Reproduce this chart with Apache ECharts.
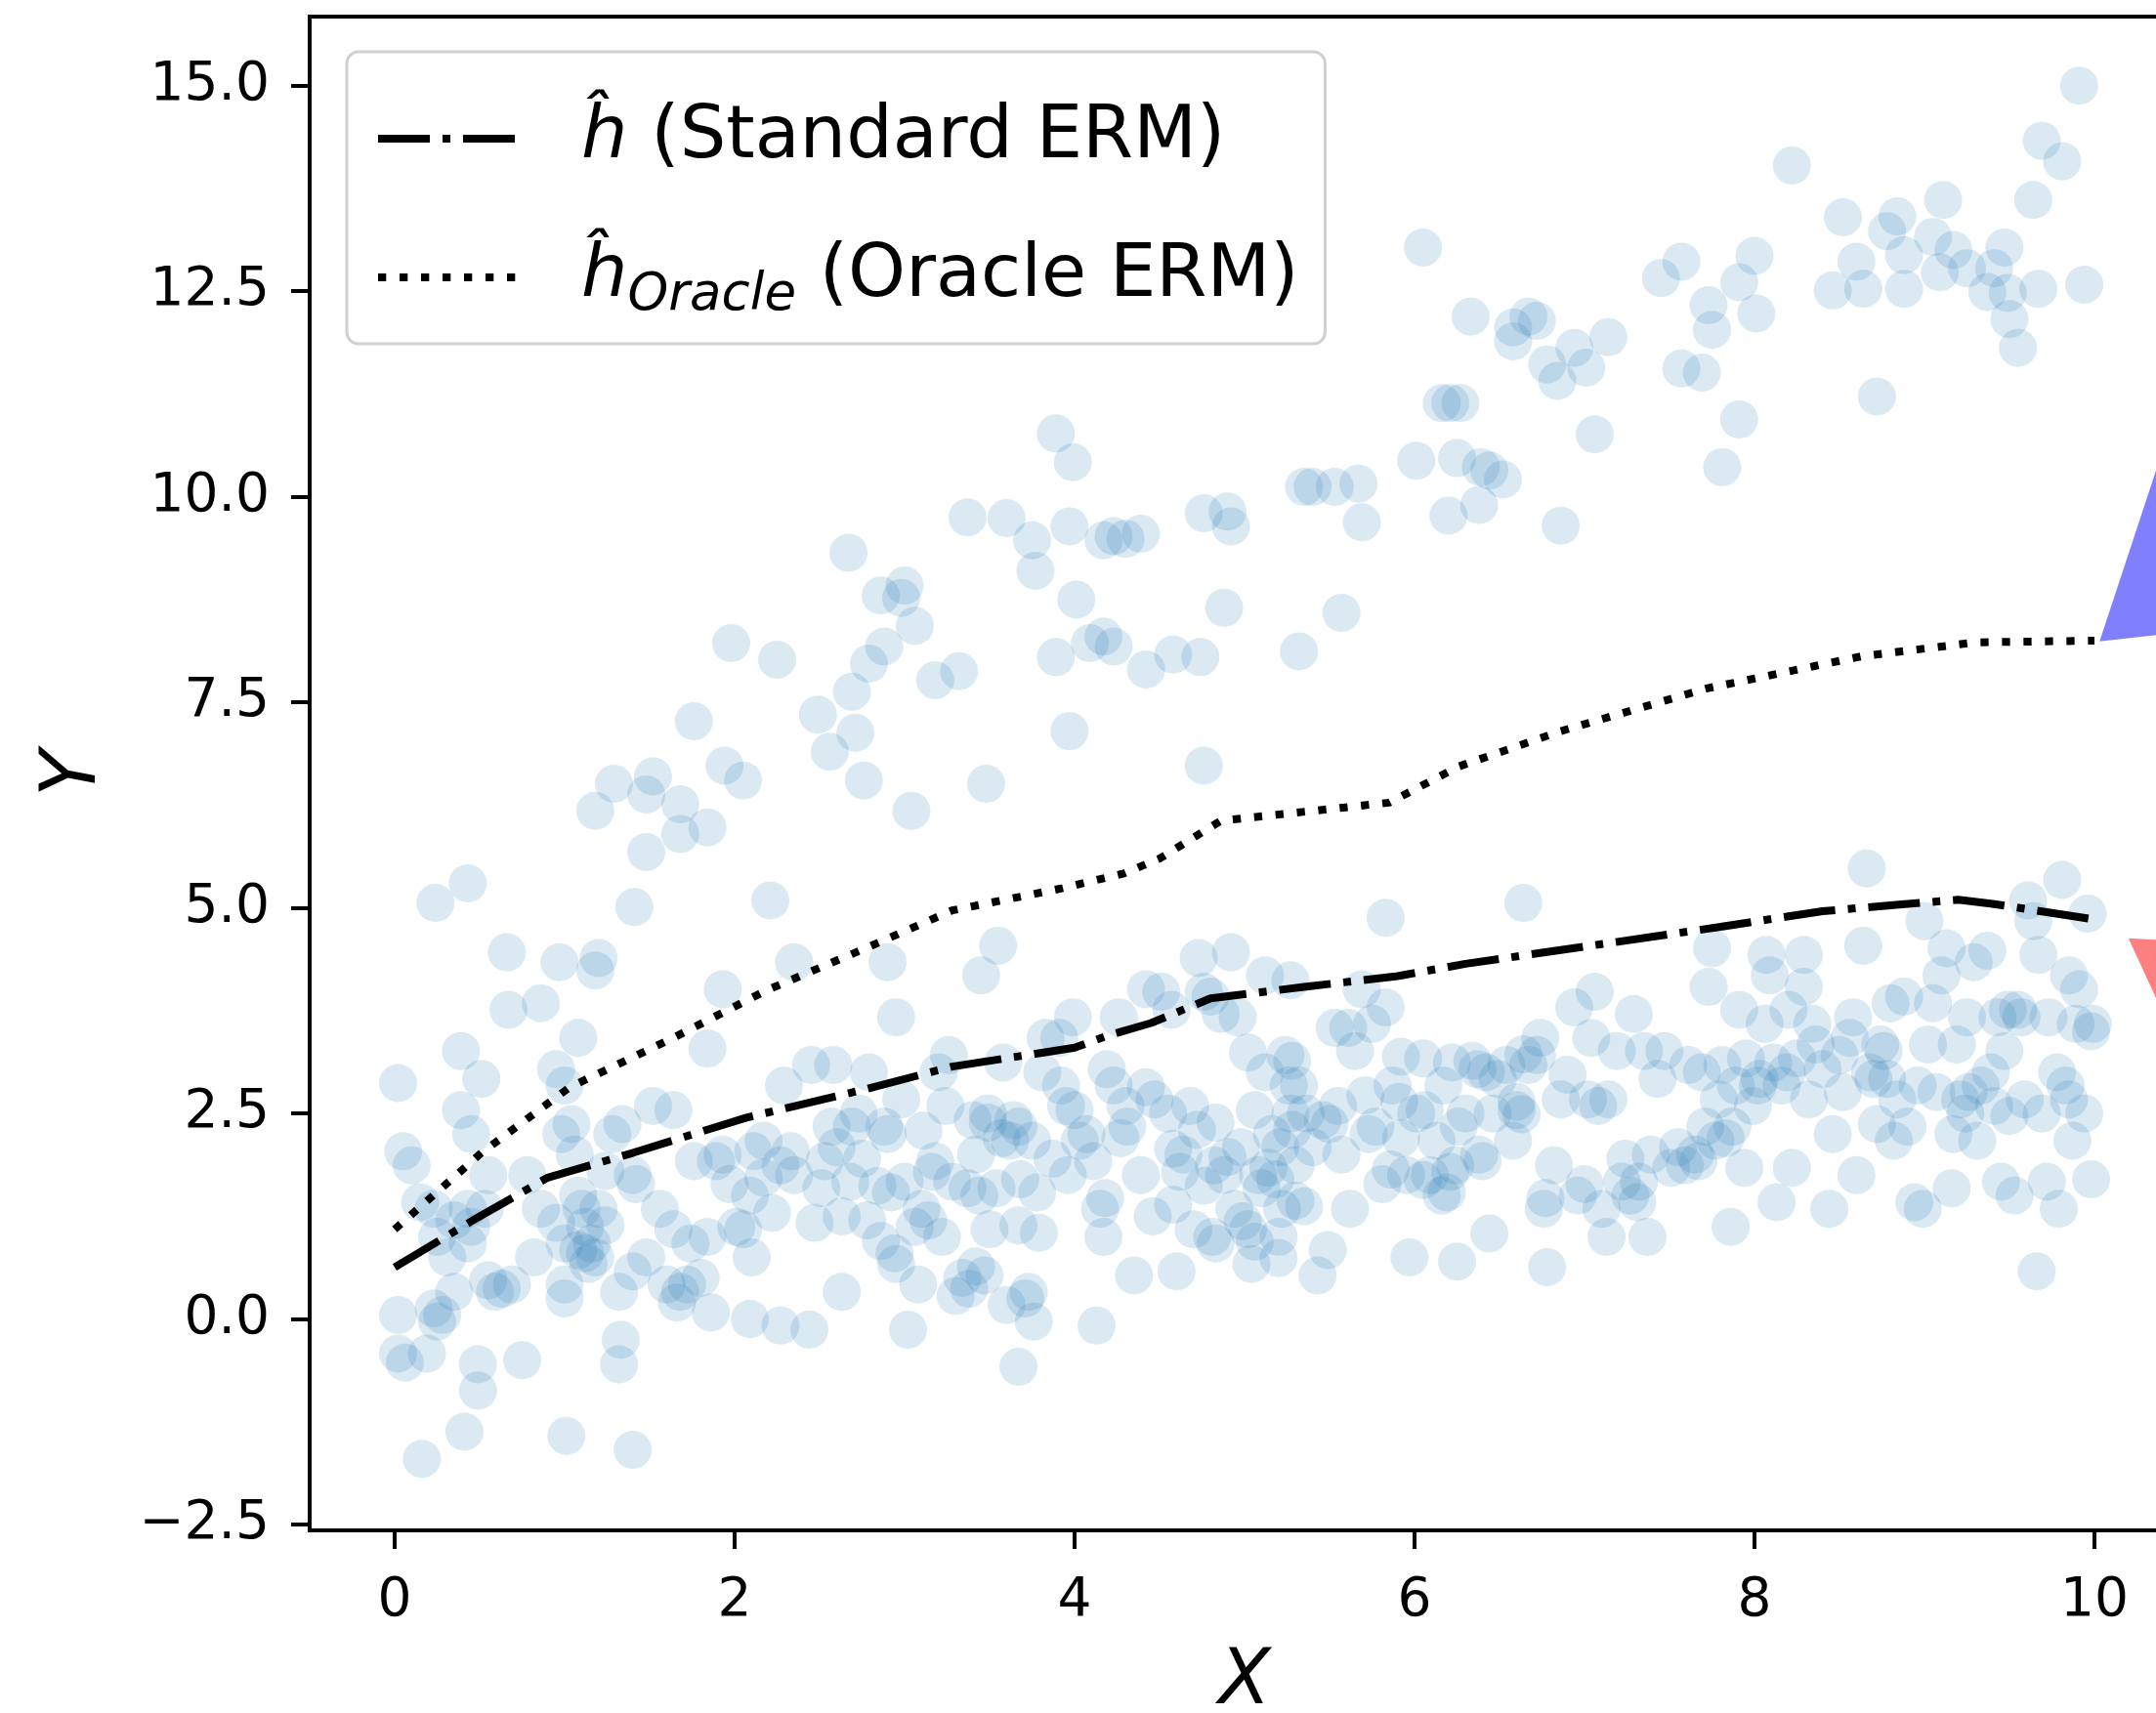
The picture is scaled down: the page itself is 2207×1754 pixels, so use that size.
<!DOCTYPE html>
<html>
<head>
<meta charset="utf-8">
<script src="https://cdn.jsdelivr.net/npm/echarts@6/dist/echarts.min.js"></script>
<style>
  html, body { margin: 0; padding: 0; background: #ffffff; }
  #chart { width: 2207px; height: 1754px; }
</style>
</head>
<body>
<div id="chart"></div>
<script>
// ---------- data ----------
const xTicks = [0, 2, 4, 6, 8, 10];
const yTicks = [-2.5, 0, 2.5, 5, 7.5, 10, 12.5, 15];

const standardLine = [[0,0.63],[0.46,1.2],[0.9,1.72],[1.4,2.02],[2.07,2.45],[2.76,2.79],[3.28,3.07],[4.0,3.3],[4.2,3.45],[4.45,3.6],[4.8,3.9],[5.35,4.04],[5.9,4.17],[6.3,4.32],[6.8,4.47],[7.8,4.77],[8.4,4.96],[8.85,5.04],[9.2,5.1],[9.4,5.05],[10,4.86]];

const oracleLine = [[0,1.09],[0.51,2.02],[1.03,2.82],[1.62,3.4],[2.19,4.0],[2.76,4.5],[3.28,4.97],[3.93,5.24],[4.29,5.42],[4.5,5.6],[4.86,6.06],[5.58,6.22],[5.85,6.28],[6.26,6.72],[6.86,7.15],[7.72,7.67],[8.63,8.06],[9.3,8.23],[10,8.25]];

const upperPoints = [[0.24,5.06],[0.43,5.3],[0.66,4.46],[0.67,3.76],[0.86,3.84],[0.97,4.34],[1.2,4.39],[1.18,4.24],[1.18,6.18],[1.29,6.51],[1.41,5.01],[1.48,6.38],[1.48,5.68],[1.52,6.6],[1.68,5.9],[1.68,6.26],[1.76,7.27],[1.84,5.98],[1.94,6.73],[1.98,8.22],[2.05,6.55],[1.93,4.01],[2.21,5.09],[2.25,8.02],[2.35,4.34],[2.49,7.35],[2.56,6.9],[2.67,9.32],[2.69,7.63],[2.71,7.13],[2.76,6.55],[2.79,7.97],[2.86,8.8],[2.88,8.18],[3.0,8.92],[2.98,8.77],[3.06,8.43],[3.04,6.18],[2.9,4.34],[2.95,3.67],[3.18,7.77],[3.32,7.88],[3.37,9.75],[3.48,6.51],[3.45,4.18],[3.55,4.54],[3.6,9.74],[3.75,9.47],[3.77,9.1],[3.89,10.77],[3.99,10.42],[3.97,9.64],[3.89,8.05],[3.97,7.15],[4.01,8.75],[4.09,8.22],[4.17,8.3],[4.23,8.18],[4.17,9.47],[4.23,9.52],[4.3,9.49],[4.39,9.55],[4.42,7.9],[4.58,8.08],[4.74,8.05],[4.76,6.73],[4.76,9.8],[4.88,8.65],[4.9,9.82],[4.92,9.64],[5.32,8.12],[5.35,10.12],[5.4,10.12],[5.53,10.12],[5.57,8.59],[5.67,10.16],[5.69,9.69],[5.83,4.88],[6.01,10.44],[6.05,13.03],[6.16,11.14],[6.21,11.14],[6.27,11.14],[6.2,9.77],[6.25,10.47],[6.33,12.19],[6.38,9.9],[6.39,10.36],[6.44,10.32],[6.52,10.21],[6.58,12.06],[6.58,11.89],[6.67,12.19],[6.72,12.14],[6.78,11.61],[6.84,11.41],[6.86,9.65],[6.94,11.81],[7.01,11.57],[7.06,10.76],[7.14,11.94],[6.64,5.06],[7.45,12.66],[7.57,12.86],[7.57,11.56],[7.69,11.51],[7.73,12.33],[7.75,12.03],[7.81,10.36],[7.91,12.61],[7.91,10.94],[8.0,12.93],[8.01,12.23],[8.22,14.03],[8.52,13.4],[8.46,12.51],[8.6,12.86],[8.64,12.53],[8.72,11.22],[8.78,13.23],[8.84,13.41],[8.88,12.94],[8.88,12.53],[9.05,13.16],[9.09,12.73],[9.11,13.61],[9.17,13.0],[9.25,12.78],[9.37,12.49],[9.41,12.78],[9.47,13.03],[9.49,12.48],[9.5,12.16],[9.55,11.81],[9.64,13.61],[9.67,12.53],[9.69,14.33],[9.81,14.08],[9.91,15.0],[9.94,12.58]];

const lowerPoints = [[0.02,2.87],[0.05,2.04],[0.1,1.87],[0.02,0.05],[0.02,-0.42],[0.06,-0.53],[0.19,-0.42],[0.16,-1.7],[0.15,1.42],[0.23,1.34],[0.25,1.0],[0.23,0.13],[0.25,-0.03],[0.28,0.05],[0.35,0.33],[0.31,0.75],[0.35,1.2],[0.39,3.26],[0.39,2.54],[0.43,1.34],[0.45,1.12],[0.41,-1.37],[0.49,-0.55],[0.49,-0.87],[0.51,2.92],[0.45,2.25],[0.43,0.92],[0.53,1.34],[0.55,1.75],[0.55,0.47],[0.59,0.33],[0.63,0.37],[0.69,0.42],[0.75,-0.5],[0.78,1.75],[0.82,0.75],[0.86,1.34],[0.95,3.04],[1.0,2.84],[0.98,2.25],[0.95,1.17],[1.0,0.92],[1.0,0.42],[1.0,0.25],[1.01,-1.42],[1.04,2.37],[1.08,3.42],[1.06,2.0],[1.08,1.5],[1.1,1.34],[1.12,1.12],[1.08,0.84],[1.16,0.92],[1.14,0.67],[1.12,0.8],[1.18,0.75],[1.2,1.34],[1.24,1.14],[1.24,1.8],[1.28,2.25],[1.34,2.37],[1.32,0.33],[1.33,-0.25],[1.32,-0.55],[1.4,-1.59],[1.4,1.75],[1.42,1.64],[1.4,0.58],[1.48,0.75],[1.52,2.59],[1.56,1.34],[1.6,0.42],[1.64,2.54],[1.64,1.09],[1.68,0.33],[1.66,0.2],[1.72,0.42],[1.74,0.92],[1.76,1.92],[1.8,0.5],[1.84,1.0],[1.86,0.08],[1.84,3.29],[1.89,1.92],[1.93,2.0],[1.97,1.64],[2.01,1.12],[2.05,1.09],[2.1,0.75],[2.09,0.0],[2.11,2.04],[2.09,1.5],[2.17,2.17],[2.17,1.72],[2.22,1.29],[2.27,-0.08],[2.27,1.87],[2.29,2.84],[2.33,2.04],[2.35,1.75],[2.44,-0.13],[2.45,3.09],[2.47,1.17],[2.51,1.59],[2.53,1.92],[2.57,2.34],[2.58,3.09],[2.6,2.09],[2.63,0.33],[2.63,1.25],[2.68,1.67],[2.69,2.34],[2.73,2.5],[2.75,1.95],[2.78,1.2],[2.79,3.0],[2.84,1.62],[2.86,0.95],[2.88,2.34],[2.9,2.25],[2.92,1.54],[2.94,0.8],[2.95,0.67],[2.98,2.67],[3.0,1.67],[3.02,-0.13],[3.06,1.12],[3.08,0.42],[3.1,1.34],[3.11,2.29],[3.14,1.2],[3.16,1.79],[3.18,1.92],[3.2,3.0],[3.22,1.0],[3.24,2.59],[3.26,3.21],[3.28,1.67],[3.3,0.28],[3.34,0.5],[3.38,0.37],[3.4,2.42],[3.42,2.0],[3.44,1.5],[3.47,0.53],[3.49,2.5],[3.5,1.09],[3.54,1.59],[3.57,2.2],[3.58,3.12],[3.6,0.17],[3.62,2.17],[3.64,2.42],[3.67,-0.58],[3.67,2.34],[3.68,1.7],[3.71,0.25],[3.73,0.33],[3.76,-0.03],[3.75,2.17],[3.79,1.05],[3.81,3.0],[3.83,3.42],[3.87,1.95],[3.91,3.42],[3.92,2.84],[3.95,2.59],[3.96,1.75],[3.99,3.67],[4.0,2.54],[4.03,2.17],[4.07,2.25],[4.11,1.92],[4.13,-0.08],[4.15,1.34],[4.17,1.0],[4.19,3.04],[4.23,2.84],[4.26,3.67],[4.27,2.2],[4.3,2.59],[4.31,2.34],[4.35,0.53],[4.39,1.75],[4.42,4.01],[4.46,1.25],[4.47,2.67],[4.51,3.98],[4.55,2.5],[4.57,3.76],[4.6,0.58],[4.62,1.79],[4.64,2.0],[4.68,2.59],[4.7,1.09],[4.72,2.3],[4.73,4.39],[4.76,3.98],[4.8,3.92],[4.81,1.0],[4.82,1.87],[4.83,0.92],[4.86,3.71],[4.88,1.75],[4.9,1.97],[4.92,4.46],[4.94,1.34],[4.96,3.67],[4.98,2.09],[5.02,1.09],[5.04,0.67],[5.06,2.54],[5.08,1.75],[5.12,4.18],[5.12,3.0],[5.14,1.84],[5.16,2.25],[5.18,1.7],[5.2,1.0],[5.22,1.34],[5.24,3.21],[5.27,2.5],[5.28,3.14],[5.28,2.3],[5.3,1.87],[5.32,2.84],[5.35,1.37],[5.36,2.5],[5.4,2.09],[5.43,0.53],[5.46,2.42],[5.49,0.84],[5.5,2.37],[5.53,3.54],[5.55,2.59],[5.57,2.0],[5.61,3.54],[5.62,1.34],[5.65,3.26],[5.69,4.01],[5.71,2.72],[5.73,2.25],[5.75,3.59],[5.77,2.34],[5.81,1.64],[5.83,3.79],[5.87,2.84],[5.92,2.2],[5.95,1.75],[5.97,0.75],[6.01,2.5],[6.05,3.17],[6.09,1.75],[6.13,2.17],[6.16,1.5],[6.17,2.84],[6.19,1.54],[6.22,3.12],[6.24,1.87],[6.25,0.7],[6.3,2.5],[6.34,3.14],[6.38,2.0],[6.4,1.92],[6.42,3.0],[6.44,1.04],[6.46,2.5],[6.49,2.92],[6.54,3.09],[6.58,2.17],[6.6,2.54],[6.64,3.22],[6.67,3.09],[6.72,3.21],[6.74,3.42],[6.76,1.34],[6.78,0.63],[6.82,1.87],[6.86,2.67],[6.9,2.97],[6.94,3.79],[6.96,1.5],[7.0,1.64],[7.02,2.67],[7.04,3.42],[7.06,3.98],[7.08,2.59],[7.1,1.34],[7.13,1.0],[7.14,2.67],[7.19,3.26],[7.22,1.67],[7.24,1.95],[7.27,1.5],[7.29,3.71],[7.31,1.42],[7.32,1.67],[7.35,3.26],[7.37,1.0],[7.39,2.0],[7.43,2.92],[7.47,3.26],[7.51,1.84],[7.55,2.09],[7.59,1.87],[7.61,3.09],[7.65,2.0],[7.67,1.92],[7.69,3.0],[7.71,2.34],[7.73,4.04],[7.75,4.51],[7.77,2.17],[7.79,2.67],[7.81,3.09],[7.83,2.2],[7.86,1.12],[7.87,2.34],[7.89,2.84],[7.91,3.76],[7.94,1.84],[7.95,3.17],[7.99,2.59],[8.02,2.84],[8.03,2.92],[8.06,3.59],[8.07,4.43],[8.09,4.18],[8.11,3.12],[8.13,1.42],[8.16,2.84],[8.19,3.0],[8.2,3.76],[8.22,1.84],[8.25,3.17],[8.29,4.43],[8.29,4.04],[8.32,2.67],[8.34,3.59],[8.36,3.34],[8.4,3.04],[8.44,1.34],[8.46,2.25],[8.5,3.21],[8.52,2.76],[8.56,3.42],[8.58,3.67],[8.6,1.75],[8.64,4.54],[8.66,5.48],[8.68,3.0],[8.7,2.92],[8.72,2.37],[8.74,3.34],[8.76,3.26],[8.78,2.92],[8.8,3.84],[8.82,2.17],[8.84,2.67],[8.88,3.92],[8.9,2.34],[8.94,1.42],[8.96,2.84],[8.99,1.34],[9.0,4.84],[9.02,3.34],[9.05,3.84],[9.07,2.76],[9.1,4.18],[9.13,4.51],[9.16,1.59],[9.17,2.25],[9.19,3.34],[9.21,2.67],[9.24,2.5],[9.25,3.67],[9.26,2.76],[9.29,4.34],[9.31,2.17],[9.33,2.84],[9.37,4.48],[9.39,3.0],[9.41,2.59],[9.43,3.67],[9.45,1.67],[9.47,3.26],[9.49,3.76],[9.5,2.47],[9.53,1.5],[9.55,3.76],[9.57,3.67],[9.59,2.67],[9.61,5.09],[9.64,4.84],[9.66,0.58],[9.67,4.43],[9.69,2.5],[9.72,1.67],[9.73,3.67],[9.78,3.0],[9.79,1.34],[9.81,5.34],[9.83,2.84],[9.85,4.18],[9.85,2.67],[9.87,2.17],[9.89,3.59],[9.91,4.01],[9.94,2.5],[9.96,4.93],[9.98,3.5],[9.98,1.7],[9.99,3.59]];

// extra points in the dense middle band (read from a close-up of x 3.3 - 6.9)
const middlePoints = [[5.02,3.24],[5.26,2.84],[5.92,3.19],[6.37,3.04],[6.6,2.64],[3.49,2.39],[3.37,1.59],[3.78,1.54],[4.42,2.82],[4.58,2.07],[4.83,2.39],[4.76,1.62],[4.18,1.47],[4.58,1.39],[4.99,1.19],[5.06,0.94],[3.67,1.14],[3.42,0.64],[5.21,2.09],[5.3,1.44],[5.1,1.59],[5.91,2.64],[6.06,2.54],[6.26,2.34],[5.86,1.82],[6.05,1.69],[6.21,1.79],[6.63,2.49],[6.77,1.47],[5.27,4.12],[5.2,0.74]];

// annotation wedges (data coordinates, partly outside the visible canvas)
const blueWedge = [[10.03,8.24],[10.67,12.25],[10.67,8.39]];
const redWedge = [[10.2,4.63],[10.67,4.58],[10.67,2.53]];

// ---------- chart ----------
const chart = echarts.init(document.getElementById('chart'), null, {renderer: 'canvas'});
const FONT = 'DejaVu Sans';

function wedgeSeries(poly, color) {
  return {
    type: 'custom',
    coordinateSystem: 'cartesian2d',
    clip: false,
    silent: true,
    z: 5,
    data: [0],
    renderItem: function (params, api) {
      const pts = poly.map(p => api.coord(p));
      return {type: 'polygon', shape: {points: pts}, style: {fill: color}};
    }
  };
}

const option = {
  backgroundColor: '#ffffff',
  animation: false,
  grid: {
    left: 317, right: -24, top: 17, bottom: 187,
    show: true, borderColor: '#000', borderWidth: 4,
    outerBoundsMode: 'none'
  },
  legend: {
    data: ['Standard', 'Oracle'],
    orient: 'vertical',
    left: 355, top: 53,
    padding: [39, 27, 18, 28],
    itemGap: 42,
    itemWidth: 149, itemHeight: 100,
    backgroundColor: 'rgba(255,255,255,0.8)',
    borderColor: '#d0d0d0', borderWidth: 3, borderRadius: 12,
    itemStyle: {color: 'rgba(0,0,0,0)', opacity: 0, borderWidth: 0},
    lineStyle: {width: 8, type: 'inherit', cap: 'butt', color: '#000'},
    formatter: function (name) {
      if (name === 'Standard') return '{pad|}{h|ĥ}{t| (Standard ERM)}';
      return '{pad|}{h|ĥ}{s|Oracle}{t| (Oracle ERM)}';
    },
    textStyle: {
      fontFamily: FONT, fontSize: 75, color: '#000', lineHeight: 100,
      rich: {
        pad: {width: 54, lineHeight: 100},
        h: {fontFamily: FONT, fontSize: 75, fontStyle: 'italic', color: '#000', lineHeight: 100},
        s: {fontFamily: FONT, fontSize: 53, fontStyle: 'italic', color: '#000', verticalAlign: 'bottom', lineHeight: 100, padding: [0, 0, 4, 0]},
        t: {fontFamily: FONT, fontSize: 75, color: '#000', lineHeight: 100}
      }
    }
  },
  xAxis: {
    type: 'value', min: -0.5, max: 10.5,
    axisLine: {onZero: false, lineStyle: {color: '#000', width: 4}},
    axisTick: {customValues: xTicks, length: 19, lineStyle: {color: '#000', width: 4}},
    axisLabel: {customValues: xTicks, fontFamily: FONT, fontSize: 55, color: '#000', margin: 45,
      formatter: v => String(v)},
    splitLine: {show: false},
    name: 'X', nameLocation: 'middle', nameGap: 118,
    nameTextStyle: {fontFamily: FONT, fontSize: 78, fontStyle: 'italic', color: '#000'}
  },
  yAxis: {
    type: 'value', min: -2.57, max: 15.84,
    axisLine: {onZero: false, lineStyle: {color: '#000', width: 4}},
    axisTick: {customValues: yTicks, length: 19, lineStyle: {color: '#000', width: 4}},
    axisLabel: {customValues: yTicks, fontFamily: FONT, fontSize: 55, color: '#000', margin: 41,
      formatter: v => (v < 0 ? '\u2212' : '') + Math.abs(v).toFixed(1)},
    splitLine: {show: false},
    name: 'Y', nameLocation: 'middle', nameGap: 201,
    nameTextStyle: {fontFamily: FONT, fontSize: 78, fontStyle: 'italic', color: '#000'}
  },
  series: [
    {
      type: 'scatter', name: 'points', silent: true,
      symbol: 'circle', symbolSize: 39,
      itemStyle: {color: 'rgba(31,119,180,0.2)'},
      data: lowerPoints.concat(middlePoints, upperPoints),
      z: 2
    },
    {
      type: 'line', name: 'Standard', symbol: 'none', silent: true,
      data: standardLine,
      lineStyle: {color: '#000', width: 8, type: [53, 13, 8, 13], cap: 'butt'},
      itemStyle: {color: '#000'},
      z: 3
    },
    {
      type: 'line', name: 'Oracle', symbol: 'none', silent: true,
      data: oracleLine,
      lineStyle: {color: '#000', width: 8, type: [8.3, 13.7], cap: 'butt'},
      itemStyle: {color: '#000'},
      z: 3
    },
    wedgeSeries(blueWedge, '#8080ff'),
    wedgeSeries(redWedge, '#ff8080')
  ]
};
chart.setOption(option);
</script>
</body>
</html>
